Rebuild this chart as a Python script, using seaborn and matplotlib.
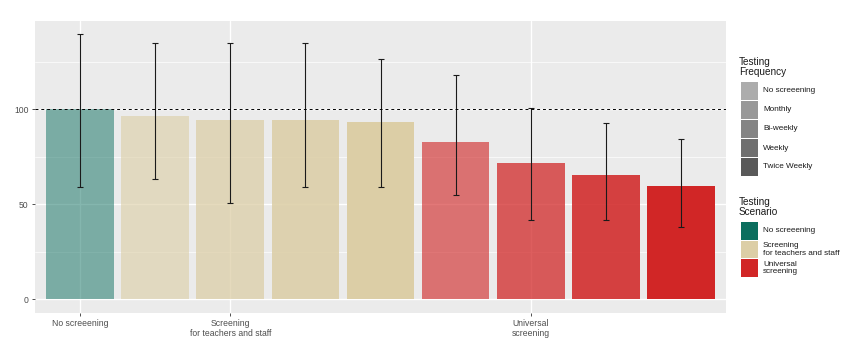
import numpy as np
import pandas as pd
import matplotlib
matplotlib.use("Agg")
import matplotlib.pyplot as plt
import seaborn as sns
from matplotlib.colors import to_rgb
from matplotlib.patches import Rectangle

scenario = ["No screening", "Screening", "Screening", "Screening", "Screening",
            "Universal", "Universal", "Universal", "Universal"]
frequency = ["No screeening", "Monthly", "Bi-weekly", "Weekly", "Twice Weekly",
             "Monthly", "Bi-weekly", "Weekly", "Twice Weekly"]
value = [100, 96.6, 94.4, 94.4, 93.5, 82.6, 71.9, 65.5, 59.7]
lower = [58.9, 63.1, 50.6, 58.9, 58.9, 54.8, 41.8, 41.8, 37.8]
upper = [139.5, 135.1, 135.1, 135.1, 126.5, 118.1, 100.8, 92.6, 84.5]

tick_pos = [0, 2, 6]
tick_labels = ["No screeening", "Screening\nfor teachers and staff", "Universal\nscreening"]

freq_levels = ["No screeening", "Monthly", "Bi-weekly", "Weekly", "Twice Weekly"]
freq_alpha = [0.5, 0.62, 0.74, 0.87, 1.0]
scen_levels = ["No screening", "Screening", "Universal"]
scen_labels = ["No screeening", "Screening\nfor teachers and staff", "Universal\nscreening"]
scen_colors = ["#0b6e5e", "#dccea6", "#d12626"]

df = pd.DataFrame({"bar": range(len(value)), "scenario": scenario,
                   "frequency": frequency, "value": value,
                   "lower": lower, "upper": upper})

sns.set_theme(style="darkgrid", rc={
    "axes.facecolor": "#EBEBEB",
    "grid.color": "white",
    "axes.edgecolor": "#EBEBEB",
})
plt.rcParams["font.family"] = ["Liberation Sans", "DejaVu Sans"]

W, H = 850, 351
fig = plt.figure(figsize=(W / 100, H / 100), dpi=100)
ax = fig.add_axes([35 / W, 38.3 / H, (726 - 35) / W, (330 - 38.3) / H])

sns.barplot(data=df, x="bar", y="value", order=list(range(len(value))),
            width=0.9, errorbar=None, ax=ax, zorder=2)

cmap = dict(zip(scen_levels, scen_colors))
amap = dict(zip(freq_levels, freq_alpha))
for p, s, f in zip(ax.patches, scenario, frequency):
    p.set_facecolor(cmap[s])
    p.set_alpha(amap[f])
    p.set_edgecolor("none")

ax.errorbar(df["bar"], df["value"],
            yerr=[df["value"] - df["lower"], df["upper"] - df["value"]],
            fmt="none", ecolor="#1a1a1a", elinewidth=0.8, capsize=2.5,
            capthick=0.8, zorder=3)

ax.axhline(100, color="black", linestyle=(0, (3, 3)), linewidth=0.7, zorder=3)

ax.set_xlim(-0.6, 8.6)
ax.set_ylim(-7.2, 146.5)
ax.set_yticks([0, 50, 100])
ax.set_yticks([25, 75, 125], minor=True)
ax.set_xticks(tick_pos)
ax.set_xticklabels(tick_labels)
ax.grid(which="major", color="white", linewidth=1.0)
ax.grid(which="minor", axis="y", color="white", linewidth=0.5)
ax.set_axisbelow(True)
ax.set_xlabel("")
ax.set_ylabel("")
ax.tick_params(axis="both", which="major", length=2.5, width=0.6, color="#333333",
               labelsize=6.2, labelcolor="#4d4d4d", pad=2, bottom=True, left=True)
ax.tick_params(axis="both", which="minor", length=0)
for sp in ax.spines.values():
    sp.set_visible(False)


# legends drawn by hand in pixel coordinates (top-left origin)
def blend(color, a, bg="white"):
    c, b = np.array(to_rgb(color)), np.array(to_rgb(bg))
    return tuple(a * c + (1 - a) * b)


def draw_legend(title, labels, colors, top, step):
    fig.text(739 / W, 1 - top / H, title, fontsize=7.2, color="#1a1a1a",
             va="top", ha="left", linespacing=1.0)
    y0 = top + 25
    for i, (lab, col) in enumerate(zip(labels, colors)):
        y = y0 + i * step
        fig.patches.append(Rectangle((740.5 / W, 1 - (y + 17.5) / H), 17.5 / W, 17.5 / H,
                                     transform=fig.transFigure, facecolor=col,
                                     edgecolor="none", figure=fig))
        fig.text(763 / W, 1 - (y + 9) / H, lab, fontsize=5.9, color="#1a1a1a",
                 va="center", ha="left", linespacing=1.1)


draw_legend("Testing\nFrequency", freq_levels,
            [blend("#595959", a) for a in freq_alpha], 57, 19)
draw_legend("Testing\nScenario", scen_labels, scen_colors, 197, 18.5)

fig.savefig("out.png", dpi=100, facecolor="white")
